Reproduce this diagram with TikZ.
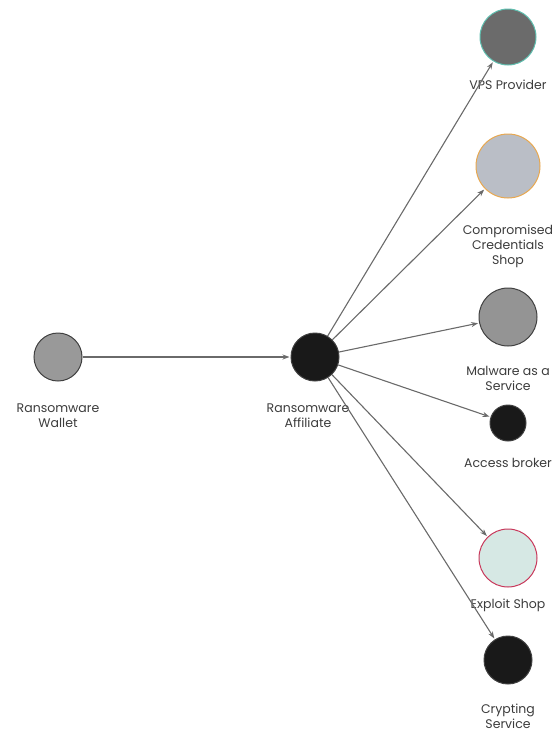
\documentclass[tikz,border=0pt]{standalone}
\usepackage{fontspec}
\setmainfont{Poppins}
\usetikzlibrary{arrows.meta,positioning}
\definecolor{edgegray}{HTML}{6A6A6A}
\definecolor{txtgray}{HTML}{3C3C3C}
\begin{document}
\begin{tikzpicture}[x=1pt,y=-1pt,>={Stealth[length=7pt,width=5pt]},
   font=\fontsize{12.5}{15}\selectfont,
   actor/.style={circle,draw=black!75,line width=1pt,inner sep=0pt},
   lbl/.style={align=center,text=txtgray,inner sep=0pt},
   link/.style={->,draw=edgegray,line width=1.1pt,shorten >=1pt}]
  \useasboundingbox (0,0) rectangle (559,732);

  % ---- actors ----
  \node[actor,fill=black!40,minimum size=48pt] (wallet) at (58,357) {};
  \node[actor,fill=black!90,minimum size=48pt] (aff) at (315,357) {};
  \node[actor,draw={rgb,255:red,95;green,190;blue,175},fill=black!58,minimum size=56pt] (vps) at (508,37) {};
  \node[actor,draw={rgb,255:red,232;green,168;blue,80},fill={rgb,255:red,186;green,190;blue,198},minimum size=64pt] (cred) at (508,166) {};
  \node[actor,fill=black!42,minimum size=58pt] (maas) at (508,317) {};
  \node[actor,fill=black!90,minimum size=36pt] (broker) at (508,423) {};
  \node[actor,draw={rgb,255:red,200;green,55;blue,90},fill={rgb,255:red,214;green,232;blue,228},minimum size=58pt] (exploit) at (508,558) {};
  \node[actor,fill=black!90,minimum size=48pt] (crypt) at (508,660) {};

  % ---- labels ----
  \node[lbl] (walletl) at (58,416) {Ransomware\\Wallet};
  \node[lbl] (affl) at (308,416) {Ransomware\\Affiliate};
  \node[lbl] (vpsl) at (508,85) {VPS Provider};
  \node[lbl] (credl) at (508,246) {Compromised\\Credentials\\Shop};
  \node[lbl] (maasl) at (508,378) {Malware as a\\Service};
  \node[lbl] (brokerl) at (508,463) {Access broker};
  \node[lbl] (exploitl) at (508,605) {Exploit Shop};
  \node[lbl] (cryptl) at (508,716) {Crypting\\Service};

  % ---- edges ----
  \draw[link] (wallet) -- (aff);
  \foreach \n in {vps,cred,maas,broker,exploit,crypt}{\draw[link] (aff) -- (\n);}
\end{tikzpicture}
\end{document}
